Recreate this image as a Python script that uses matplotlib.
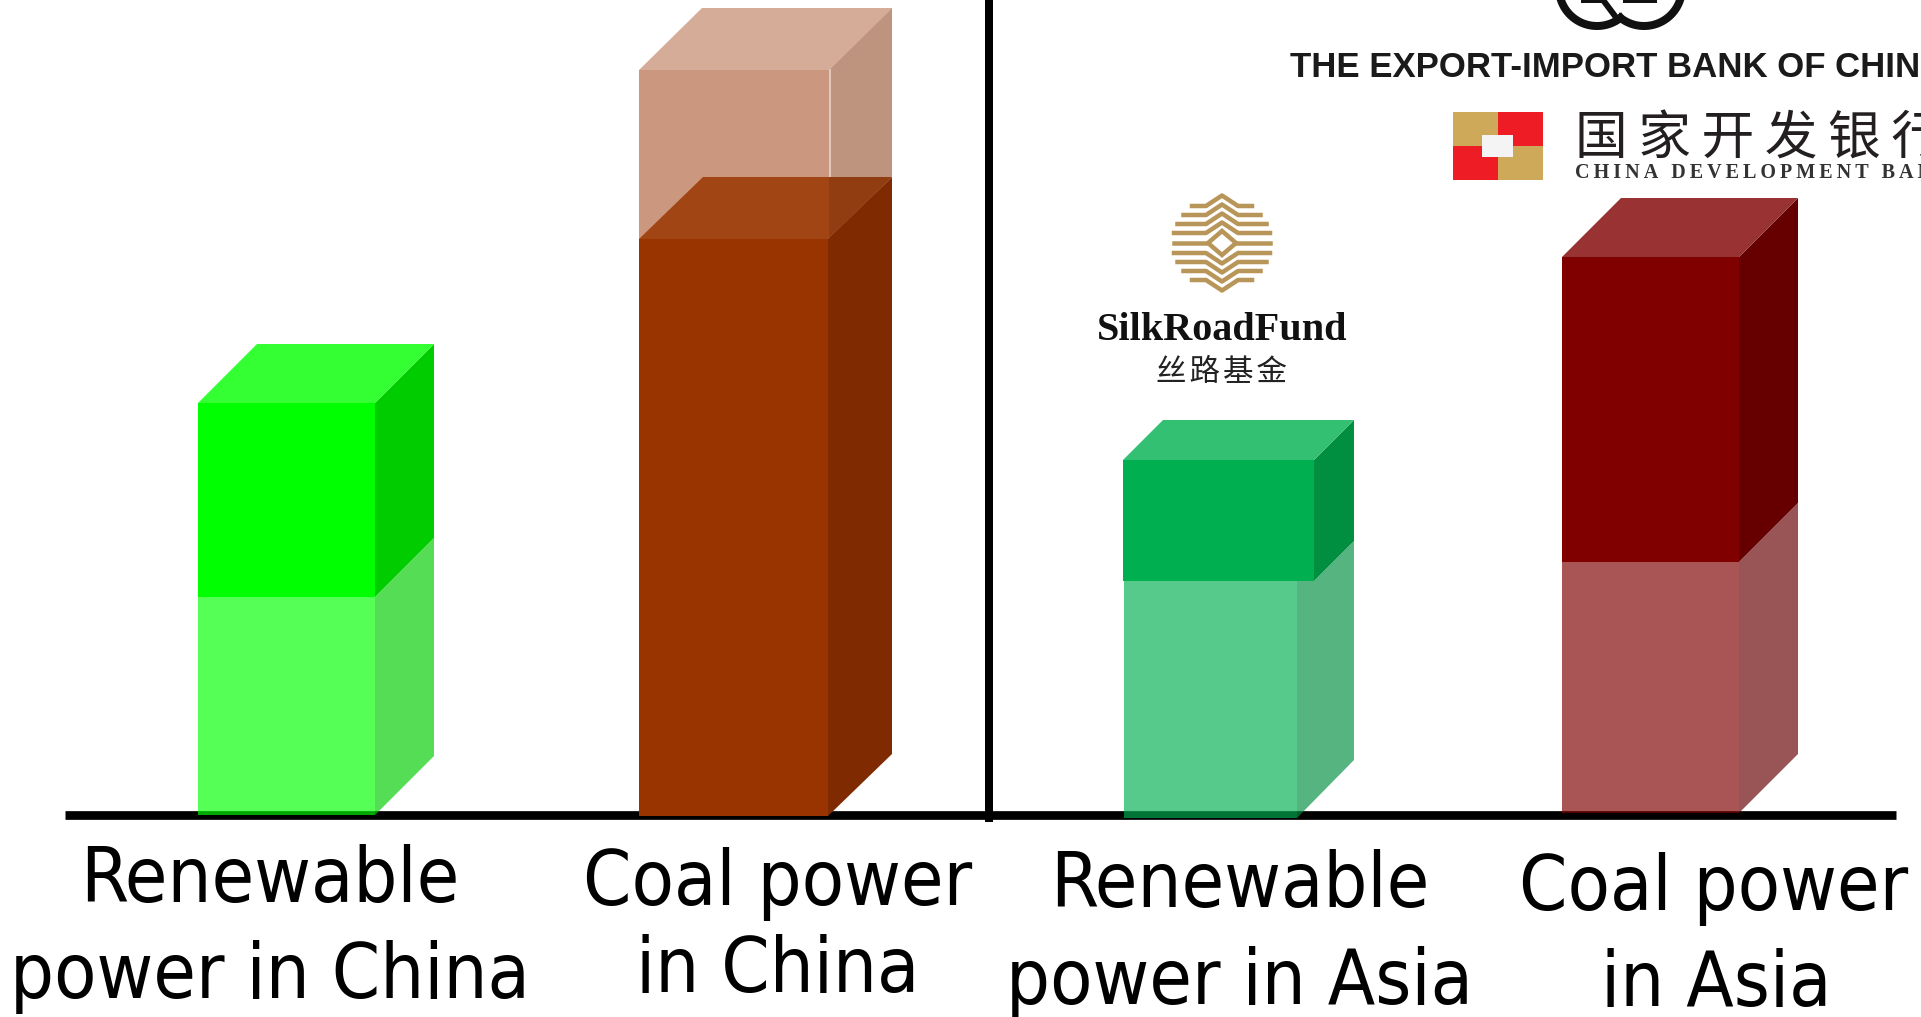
import numpy as np
import matplotlib
matplotlib.use("Agg")
import matplotlib.pyplot as plt
from matplotlib.patches import Polygon, Rectangle

# bar values (height above the axis line, in picture px)
categories = [["Renewable", "power in China"], ["Coal power", "in China"],
              ["Renewable", "power in Asia"], ["Coal power", "in Asia"]]
lower_values = [218, 577, 237, 251]
total_values = [412, 746, 358, 556]

# logo wording
exim_name = "THE EXPORT-IMPORT BANK OF CHINA"
cdb_name_cn = "国家开发银行"
cdb_name_en = "CHINA DEVELOPMENT BANK"
silk_name = "SilkRoadFund"
silk_name_cn = "丝路基金"

W, H = 1921, 1017
BASE = 815
PX = 0.72  # px -> pt at dpi 100

# layout of the blocks
bar_left = [198, 639, 1123, 1562]
bar_width = [177, 190, 191, 177]
depth_x = [59, 63, 40, 59]
depth_y = [59, 62, 40, 59]
base_shift = [0, -1, -3, 2]
front_colors = ["#00FF00", "#993300", "#00B050", "#800000"]
side_colors = ["#00CC00", "#7F2A00", "#008F40", "#660000"]
top_colors = ["#33FF33", "#A24514", "#33C073", "#993333"]
ghost_alpha = [0.667, 0.5, 0.667, 0.667]

# silk road emblem stripes: distance from the middle, half width
silk_offsets = [10, 19, 28, 37]
silk_halves = [48, 44.5, 38.5, 30]

TEXT_FONT = ["DejaVu Sans"]
CJK_FONT = ["Noto Sans CJK SC", "DejaVu Sans"]


def py(y):
    # picture row to axis value
    return BASE - y


def draw_block(ax, left, width, dx, dy, bottom, top, face, side, roof=None, alpha=1.0, z=3):
    ax.add_patch(Rectangle((left, bottom), width, top - bottom, fc=face, lw=0, alpha=alpha, zorder=z))
    right = left + width
    ax.add_patch(Polygon([(right, bottom), (right + dx, bottom + dy), (right + dx, top + dy), (right, top)],
                         fc=side, lw=0, alpha=alpha, zorder=z))
    if roof is not None:
        ax.add_patch(Polygon([(left, top), (right, top), (right + dx, top + dy), (left + dx, top + dy)],
                             fc=roof, lw=0, alpha=alpha, zorder=z))


def draw_bars(ax):
    for i in range(4):
        b = base_shift[i]
        left, width, dx, dy = bar_left[i], bar_width[i], depth_x[i], depth_y[i]
        low = lower_values[i] + b
        high = total_values[i] + b
        if i == 1:
            # coal in China: solid part first, see-through part on top of it
            draw_block(ax, left, width, dx, dy, low, high, front_colors[i], side_colors[i],
                       "#AC5A31", alpha=ghost_alpha[i], z=3)
            ax.plot([left + width + 1] * 2, [low + dy, high], color="#E6D5CB", lw=1.2, zorder=3)
            draw_block(ax, left, width - 1, dx + 1, dy, b, low, front_colors[i], side_colors[i],
                       top_colors[i], z=4)
            ax.add_patch(Polygon([(left + width, low), (left + width + dx, low + dy), (left + width, low + dy)],
                                 fc="black", lw=0, alpha=0.1, zorder=5))
        elif i == 2:
            # the lower block of this one is narrower and deeper
            ax.add_patch(Rectangle((left + 1, b), width - 18, low - b, fc=front_colors[i], lw=0,
                                   alpha=ghost_alpha[i], zorder=3))
            ax.add_patch(Polygon([(left + width - 17, b), (left + width + dx, b + 58), (left + width + dx, low + dy),
                                  (left + width, low), (left + width - 17, low)],
                                 fc=side_colors[i], lw=0, alpha=ghost_alpha[i], zorder=3))
            draw_block(ax, left, width, dx, dy, low, high, front_colors[i], side_colors[i], top_colors[i], z=4)
        else:
            draw_block(ax, left, width, dx, dy, b, low, front_colors[i], side_colors[i],
                       alpha=ghost_alpha[i], z=3)
            draw_block(ax, left, width, dx, dy, low, high, front_colors[i], side_colors[i], top_colors[i], z=4)


def draw_labels(ax):
    label_x = [[270, 270], [778, 778], [1240, 1240], [1714, 1716]]
    label_y = [[902, 998], [905, 992], [907, 1004], [910, 1006]]
    for i, lines in enumerate(categories):
        for j, line in enumerate(lines):
            ax.text(label_x[i][j], py(label_y[i][j]), line, fontsize=55.5, family=TEXT_FONT, stretch="condensed",
                    ha="center", va="baseline", color="black", zorder=6)


def draw_exim_logo(ax):
    t = np.radians(np.linspace(180, 308, 60))
    ax.plot(1597 + 38 * np.cos(t), py(-12) + 38 * np.sin(t), color="#111111", lw=8 * PX, zorder=2)
    t = np.radians(np.linspace(232, 360, 60))
    ax.plot(1644 + 38 * np.cos(t), py(-12) + 38 * np.sin(t), color="#111111", lw=8 * PX, zorder=2)
    ax.plot([1603, 1618], [py(0), py(20)], color="#111111", lw=6 * PX, zorder=2)
    ax.plot([1583, 1603], [py(1), py(1)], color="#111111", lw=4 * PX, zorder=2)
    ax.plot([1625, 1655], [py(1), py(1)], color="#111111", lw=4 * PX, zorder=2)
    ax.text(1290, py(77), exim_name, fontsize=25, family=["Liberation Sans"],
            weight="bold", ha="left", va="baseline", color="#1a1a1a", clip_on=True, zorder=2)


def draw_cdb_logo(ax):
    gold, red = "#CFA95A", "#EE1C25"
    ax.add_patch(Rectangle((1453, py(146)), 45, 34, fc=gold, lw=0))
    ax.add_patch(Rectangle((1498, py(146)), 45, 34, fc=red, lw=0))
    ax.add_patch(Rectangle((1453, py(180)), 45, 34, fc=red, lw=0))
    ax.add_patch(Rectangle((1498, py(180)), 45, 34, fc=gold, lw=0))
    ax.add_patch(Rectangle((1482, py(157)), 31, 22, fc="#F4F4F4", lw=0, zorder=2))
    # thin spaces come from the DejaVu fallback and open the characters up
    ax.text(1575, py(155), "\u2009".join(cdb_name_cn), fontsize=38, family=CJK_FONT, weight="medium", ha="left",
            va="baseline", color="#231F20", clip_on=True, zorder=2)
    ax.text(1575, py(178), "\u2009".join(cdb_name_en), fontsize=14.5, family=["Liberation Serif", "DejaVu Serif"],
            weight="bold", ha="left", va="baseline", color="#333333", clip_on=True, zorder=2)


def draw_silk_logo(ax):
    gold = "#B8965A"
    cx, cy = 1222, 243
    for d, half in zip(silk_offsets, silk_halves):
        for sign in [-1, 1]:
            ye = cy + sign * d
            peak = ye + sign * 10.5
            ax.plot([cx - half, cx - 16, cx, cx + 16, cx + half],
                    [py(ye), py(ye), py(peak), py(ye), py(ye)],
                    color=gold, lw=4.5 * PX, solid_joinstyle="round", zorder=2)
    # middle stripes and the diamond
    ax.plot([cx - 48, cx - 15], [py(cy), py(cy)], color=gold, lw=4.5 * PX, zorder=2)
    ax.plot([cx + 15, cx + 48], [py(cy), py(cy)], color=gold, lw=4.5 * PX, zorder=2)
    ax.add_patch(Polygon([(cx - 14, py(cy)), (cx, py(cy - 12)), (cx + 14, py(cy)), (cx, py(cy + 12))],
                         fc="white", ec=gold, lw=4.5 * PX, zorder=2))
    ax.text(cx, py(340), silk_name, fontsize=29, family=["Liberation Serif"], weight="bold", ha="center",
            va="baseline", color="#111111", zorder=2)
    ax.text(cx, py(381), "\u200a".join(silk_name_cn), fontsize=22, family=CJK_FONT, weight="medium", ha="center",
            va="baseline", color="#222222", zorder=2)


def main():
    fig = plt.figure(figsize=(W / 100, H / 100), dpi=100)
    ax = fig.add_axes([0, 0, 1, 1])
    ax.set_xlim(0, W)
    ax.set_ylim(BASE - H, BASE)
    ax.axis("off")

    # axis line and the divider
    ax.plot([65, 1896], [py(814.5), py(814.5)], color="black", lw=8.7 * PX, solid_capstyle="butt", zorder=1)
    ax.plot([989, 989], [py(0), py(822)], color="black", lw=8 * PX, solid_capstyle="butt", zorder=7)

    draw_bars(ax)
    draw_labels(ax)
    draw_exim_logo(ax)
    draw_cdb_logo(ax)
    draw_silk_logo(ax)

    fig.savefig("out.png", dpi=100, facecolor="white")


if __name__ == "__main__":
    main()
